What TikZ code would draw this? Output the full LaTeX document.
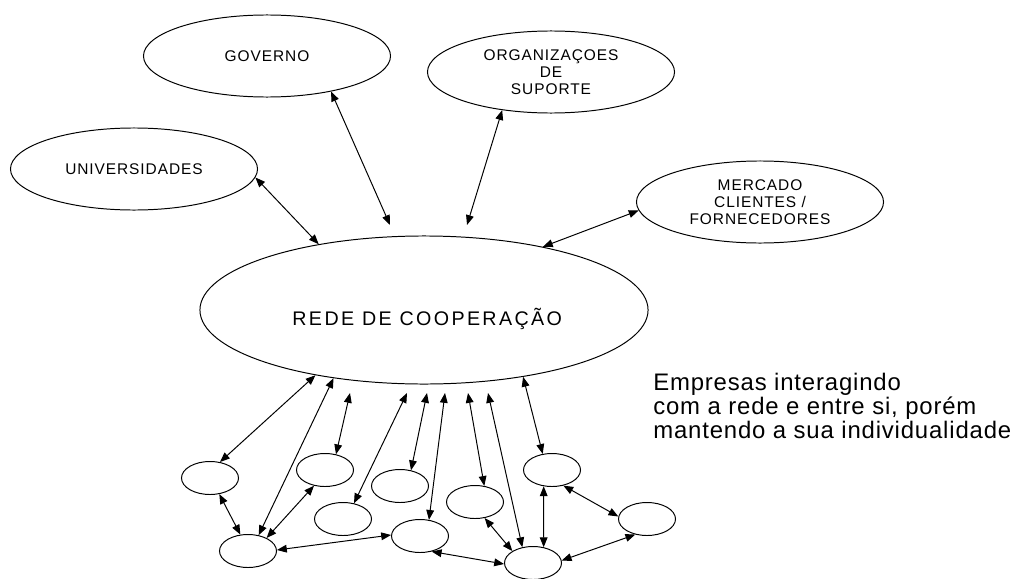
\documentclass[tikz,border=0pt]{standalone}
\usepackage{fontspec}
\setmainfont{Liberation Sans}
\usetikzlibrary{shapes.geometric,arrows.meta,positioning}

\begin{document}
\begin{tikzpicture}[
    x=0.025cm, y=-0.025cm,
    bignode/.style={ellipse, draw=black, line width=0.7pt, inner sep=0pt, align=center, font=\fontsize{11}{12}\selectfont\addfontfeature{LetterSpace=6}, minimum width=6.175cm, minimum height=2.05cm},
    firmnode/.style={ellipse, draw=black, line width=0.7pt, inner sep=0pt, minimum width=1.425cm, minimum height=0.825cm},
    link/.style={{Triangle[length=7pt,width=5.5pt]}-{Triangle[length=7pt,width=5.5pt]}, line width=0.7pt},
    black
    ]
    \useasboundingbox (0,0) rectangle (1016,578);

    %Nodes
    \node[bignode] (univ) at (134,169) {UNIVERSIDADES};
    \node[bignode] (gov)  at (267,56)  {GOVERNO};
    \node[bignode] (org)  at (551,72)  {ORGANIZAÇOES\\DE\\SUPORTE};
    \node[bignode] (merc) at (760,202) {MERCADO\\CLIENTES /\\FORNECEDORES};
    \node[ellipse, draw=black, line width=0.7pt, minimum width=11.2cm, minimum height=3.7cm,
          label={[xshift=0.08cm, yshift=-0.22cm, font=\fontsize{14}{17}\selectfont\addfontfeature{LetterSpace=12}]center:REDE DE COOPERAÇÃO}] (rede) at (424,310) {};

    % Empresas
    \node[firmnode] (ea) at (210,478) {};
    \node[firmnode] (eb) at (248,551) {};
    \node[firmnode] (ec) at (325,470) {};
    \node[firmnode] (ed) at (343,519) {};
    \node[firmnode] (ee) at (400,486) {};
    \node[firmnode] (ef) at (420,536) {};
    \node[firmnode] (eg) at (475,502) {};
    \node[firmnode] (eh) at (552,470) {};
    \node[firmnode] (ei) at (647,519) {};
    \node[firmnode] (ej) at (533,563) {};

    % Text (outside nodes)
    \node[anchor=north west, align=left, inner sep=0pt, font=\fontsize{17}{17}\selectfont\addfontfeature{LetterSpace=3.5}] (txt) at (653,373)
        {Empresas interagindo\\com a rede e entre si, porém\\mantendo a sua individualidade};

    % free arrow ends
    \coordinate (gtip) at (390,225);
    \coordinate (otip) at (467,225);
    \coordinate (t3)  at (350,393);
    \coordinate (t4)  at (407,393);
    \coordinate (t5)  at (427,393);
    \coordinate (t6)  at (445,393);
    \coordinate (t10) at (468,393);
    \coordinate (t11) at (488,393);

    %Lines
    \draw[link] (univ.-4) -- (rede.148);
    \draw[link] (gov.-29) -- (gtip);
    \draw[link] (org.218) -- (otip);
    \draw[link] (merc.184) -- (rede.28);

    \draw[link] (rede.211) -- (ea.58);
    \draw[link] (rede.217) -- (eb.56);
    \draw[link] (t3) -- (ec.55);
    \draw[link] (t4) -- (ed.55);
    \draw[link] (t5) -- (ee.55);
    \draw[link] (t6) -- (ef.61);
    \draw[link] (t10) -- (eg.60);
    \draw[link] (t11) -- (ej.124);
    \draw[link] (rede.326) -- (eh.120);

    \draw[link] (ea.-60) -- (eb.115);
    \draw[link] (ec.235) -- (eb.35);
    \draw[link] (eb.2) -- (ef.178);
    \draw[link] (eh.243) -- (ej.56);
    \draw[link] (eh.-54) -- (ei.175);
    \draw[link] (ei.233) -- (ej.5);
    \draw[link] (eg.-59) -- (ej.150);
    \draw[link] (ef.-53) -- (ej.182);
\end{tikzpicture}
\end{document}
